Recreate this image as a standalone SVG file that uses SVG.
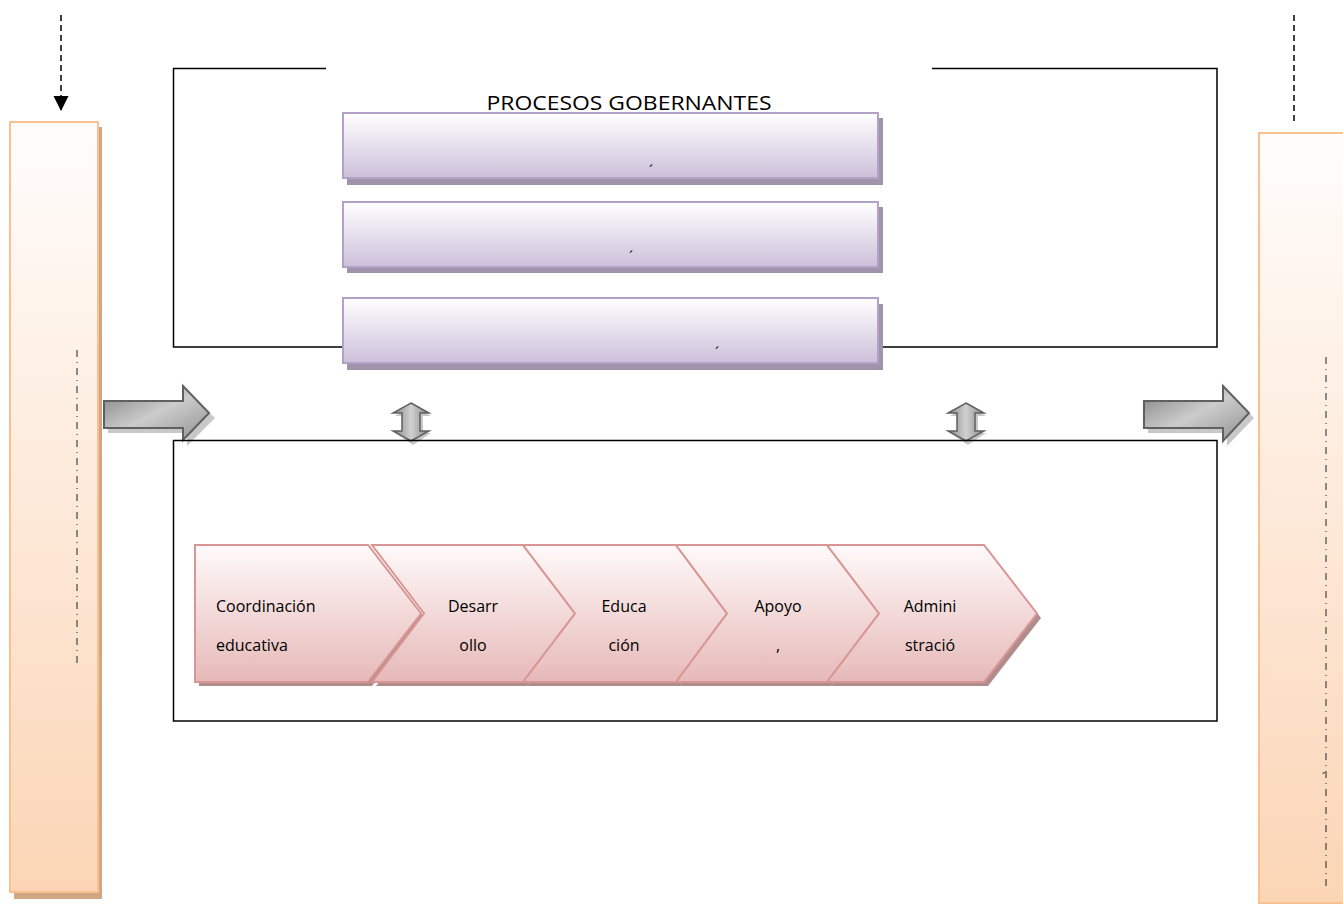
<svg xmlns="http://www.w3.org/2000/svg" width="1343" height="904" viewBox="0 0 1343 904">
<defs>
<linearGradient id="gOrange" x1="0" y1="0" x2="0" y2="1"><stop offset="0" stop-color="#fffdfc"/><stop offset="1" stop-color="#fbd5b5"/></linearGradient>
<linearGradient id="gPurple" x1="0" y1="0" x2="0" y2="1"><stop offset="0" stop-color="#ffffff"/><stop offset="1" stop-color="#ccc0da"/></linearGradient>
<linearGradient id="gPink" x1="0" y1="0" x2="0" y2="1"><stop offset="0" stop-color="#fffafa"/><stop offset="1" stop-color="#e6b9b8"/></linearGradient>
<linearGradient id="gGray" x1="0" y1="0" x2="1" y2="1"><stop offset="0" stop-color="#808080"/><stop offset="0.5" stop-color="#cccccc"/><stop offset="1" stop-color="#909090"/></linearGradient>
<linearGradient id="gGrayV" x1="0" y1="0" x2="1" y2="0"><stop offset="0" stop-color="#888"/><stop offset="0.5" stop-color="#d0d0d0"/><stop offset="1" stop-color="#888"/></linearGradient>
<marker id="tri" markerWidth="16" markerHeight="16" refX="14" refY="7.5" orient="auto" markerUnits="userSpaceOnUse" viewBox="0 0 16 16"><path d="M0,0 L15,7.5 L0,15 Z" fill="#000"/></marker>
</defs>
<style>
.frame{fill:none;stroke:#000;stroke-width:1.5}
.side{fill:url(#gOrange);stroke:#fac08f;stroke-width:2}
.sideSh{fill:#d0a683}
.pbox{fill:url(#gPurple);stroke:#b3a2c7;stroke-width:2}
.pSh{fill:#9f94a9}
.chev{fill:url(#gPink);stroke:#d99694;stroke-width:2}
.chSh{fill:#b08d8c}
.big{fill:url(#gGray);stroke:#606060;stroke-width:2}
.bigSh{fill:#c8c8c8}
.dbl{fill:url(#gGrayV);stroke:#606060;stroke-width:1.5}
.dash{stroke:#000;stroke-width:1.5;stroke-dasharray:6,4;fill:none}
.dd{stroke:#222;stroke-width:1;stroke-dasharray:7,5,1,5;fill:none}
.t{font-family:"Open Sans","Noto Sans","Liberation Sans",sans-serif;fill:#000}
.lbl{font-size:16px}
</style>

<g id="connectors">
<line class="dash" x1="61" y1="15" x2="61" y2="110" marker-end="url(#tri)"/>
<line class="dash" x1="1294" y1="15" x2="1294" y2="122"/>
</g>

<g id="left-box">
<rect class="sideSh" x="14" y="127" width="88" height="772"/>
<rect class="side" x="10" y="122" width="88" height="770"/>
<line class="dd" x1="77" y1="350" x2="77" y2="665"/>
</g>

<g id="right-box">
<rect class="side" x="1259" y="133" width="90" height="770"/>
<line class="dd" x1="1326" y1="357" x2="1326" y2="887"/>
<text class="t" x="1322" y="782" font-size="12">´</text>
</g>

<g id="governing-frame">
<path class="frame" d="M326,68.5 L173.5,68.5 L173.5,347 L1217,347 L1217,68.5 L932,68.5"/>
<text class="t" x="629" y="110" font-size="20" text-anchor="middle" textLength="285" lengthAdjust="spacingAndGlyphs">PROCESOS GOBERNANTES</text>
</g>

<g id="gov-box-1">
<rect class="pSh" x="347" y="118" width="536" height="67"/>
<rect class="pbox" x="343" y="113" width="535" height="65"/>
<text class="t" x="649" y="176" font-size="14">´</text>
</g>
<g id="gov-box-2">
<rect class="pSh" x="347" y="207" width="536" height="66"/>
<rect class="pbox" x="343" y="202" width="535" height="65"/>
<text class="t" x="629" y="262" font-size="14">´</text>
</g>
<g id="gov-box-3">
<rect class="pSh" x="347" y="304" width="536" height="66"/>
<rect class="pbox" x="343" y="298" width="535" height="65"/>
<text class="t" x="715" y="358" font-size="14">´</text>
</g>

<g id="arrow-in">
<path class="bigSh" d="M108,406 L187,406 L187,391 L215,418 L187,446 L187,433 L108,433 Z"/>
<path class="big" d="M104,401 L183,401 L183,386 L209,413 L183,440 L183,428 L104,428 Z"/>
</g>
<g id="arrow-out">
<path class="bigSh" d="M1148,406 L1227,406 L1227,391 L1254,418 L1227,446 L1227,433 L1148,433 Z"/>
<path class="big" d="M1144,401 L1223,401 L1223,386 L1249,413 L1223,441 L1223,428 L1144,428 Z"/>
</g>

<g id="dbl-left">
<path fill="#c8c8c8" d="M413,406 L431,416 L423,416 L423,433 L431,433 L413,445 L395,433 L404,433 L404,416 L395,416 Z"/>
<path class="dbl" d="M411,403 L429,413 L420,413 L420,431 L429,431 L411,441 L393,431 L402,431 L402,413 L393,413 Z"/>
</g>
<g id="dbl-right">
<path fill="#c8c8c8" d="M968,406 L986,416 L978,416 L978,433 L986,433 L968,445 L950,433 L959,433 L959,416 L950,416 Z"/>
<path class="dbl" d="M966,403 L984,413 L975,413 L975,431 L984,431 L966,441 L948,431 L957,431 L957,413 L948,413 Z"/>
</g>

<g id="process-frame">
<rect class="frame" x="173.5" y="440.5" width="1043.5" height="280.5"/>
</g>

<g id="chev-1">
<path class="chSh" d="M199,549 L372,549 L425,618 L372,686 L199,686 Z"/>
<path class="chev" d="M195,545 L368,545 L421,613.5 L368,682 L195,682 Z"/>
<text class="t lbl" x="216" y="612">Coordinación</text>
<text class="t lbl" x="216" y="651">educativa</text>
</g>
<g id="chev-2">
<path class="chSh" d="M376,549 L527,549 L579,618 L527,686 L376,686 L428,618 Z"/>
<path class="chev" d="M372,545 L523,545 L575,613.5 L523,682 L372,682 L424,613.5 Z"/>
<text class="t lbl" x="473" y="612" text-anchor="middle">Desarr</text>
<text class="t lbl" x="473" y="651" text-anchor="middle">ollo</text>
</g>
<g id="chev-3">
<path class="chSh" d="M527,549 L680,549 L731,618 L680,686 L527,686 L579,618 Z"/>
<path class="chev" d="M523,545 L676,545 L727,613.5 L676,682 L523,682 L575,613.5 Z"/>
<text class="t lbl" x="624" y="612" text-anchor="middle">Educa</text>
<text class="t lbl" x="624" y="651" text-anchor="middle">ción</text>
</g>
<g id="chev-4">
<path class="chSh" d="M680,549 L831,549 L883,618 L831,686 L680,686 L731,618 Z"/>
<path class="chev" d="M676,545 L827,545 L879,613.5 L827,682 L676,682 L727,613.5 Z"/>
<text class="t lbl" x="778" y="612" text-anchor="middle">Apoyo</text>
<text class="t lbl" x="778" y="651" text-anchor="middle">,</text>
</g>
<g id="chev-5">
<path class="chSh" d="M831,549 L988,549 L1041,618 L988,686 L831,686 L883,618 Z"/>
<path class="chev" d="M827,545 L984,545 L1037,613.5 L984,682 L827,682 L879,613.5 Z"/>
<text class="t lbl" x="930" y="612" text-anchor="middle">Admini</text>
<text class="t lbl" x="930" y="651" text-anchor="middle">stració</text>
</g>
</svg>
